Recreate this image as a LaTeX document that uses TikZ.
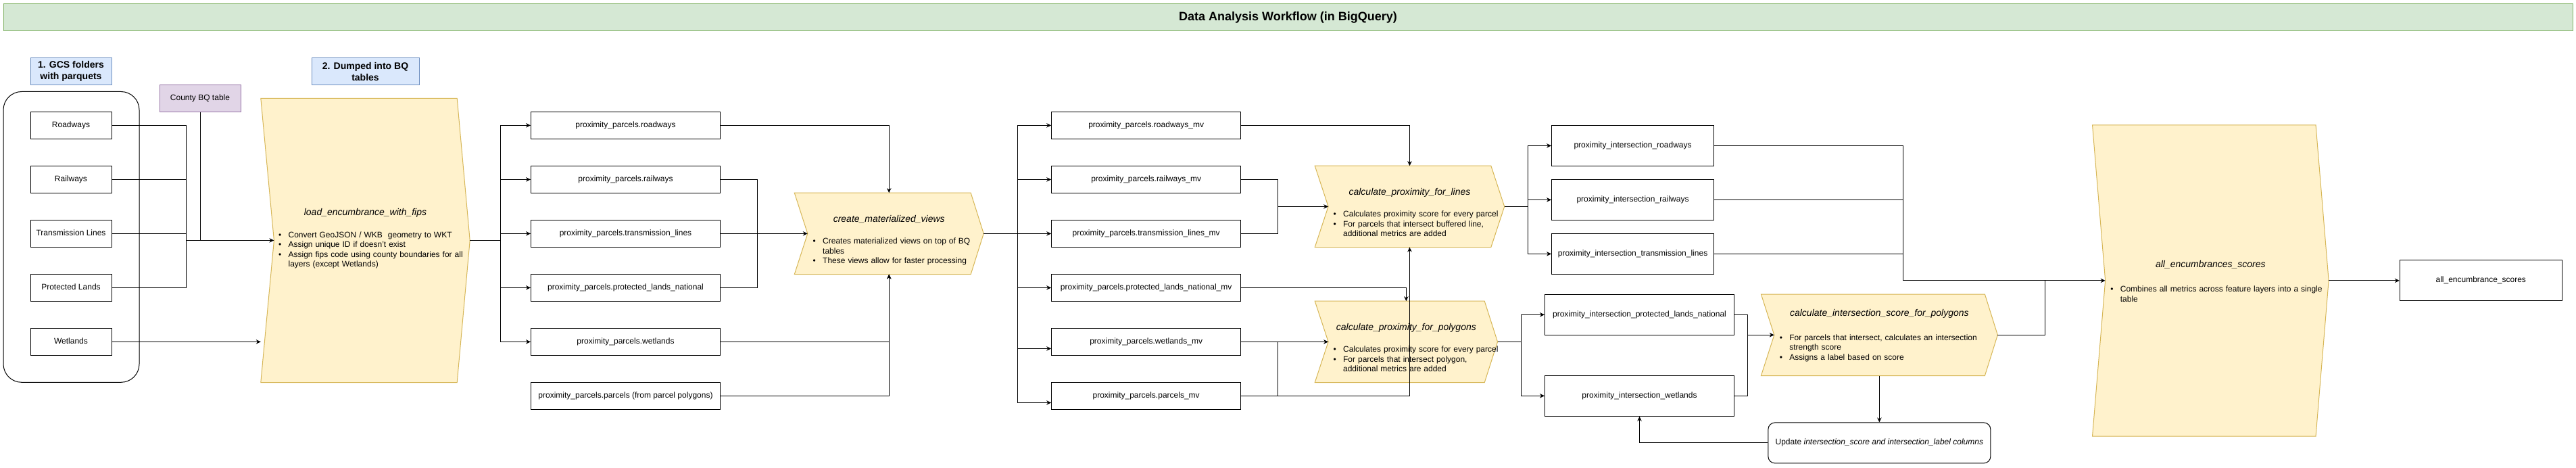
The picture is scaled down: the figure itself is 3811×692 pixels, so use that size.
\documentclass[tikz,border=0pt]{standalone}
\usepackage{fontspec}
\setmainfont{Liberation Sans}
\usetikzlibrary{arrows.meta}
\definecolor{tgreen}{HTML}{D5E8D4}
\definecolor{tgreenb}{HTML}{82B366}
\definecolor{lblue}{HTML}{DAE8FC}
\definecolor{lblueb}{HTML}{6C8EBF}
\definecolor{lpurp}{HTML}{E1D5E7}
\definecolor{lpurpb}{HTML}{9673A6}
\definecolor{lyel}{HTML}{FFF2CC}
\definecolor{lyelb}{HTML}{D6B656}
\newcommand{\bul}[1]{\par\hangindent=14.5pt\hangafter=1\noindent\makebox[14.5pt][l]{\textbullet}\strut#1\par}
\newcommand{\stepshape}[3]{%
  \path[fill=lyel, draw=lyelb, line width=1pt] (#1.north west) -- ([xshift=-#3pt]#1.north east) -- (#1.east) -- ([xshift=-#3pt]#1.south east) -- (#1.south west) -- ([xshift=#2pt]#1.west) -- cycle;
  \coordinate (#1-in) at ([xshift=#2pt]#1.west);}
\begin{document}
\begin{tikzpicture}[x=1pt,y=-1pt,
  tbox/.style={draw, line width=1pt, fill=white, inner sep=0pt, minimum width=#1, minimum height=40pt, font=\fontsize{12}{14.5}\selectfont, text height=9pt, text depth=3pt},
  lab/.style={draw=lblueb, fill=lblue, line width=1pt, inner sep=0pt, minimum width=#1, minimum height=40.2pt, align=center, font=\bfseries\fontsize{14}{17}\selectfont},
  stepn/.style={inner sep=0pt, minimum width=#1},
  fnttl/.style={inner sep=0pt, font=\itshape\fontsize{14}{16}\selectfont, text height=10pt, text depth=3pt},
  bullist/.style={anchor=north west, inner sep=0pt, text width=330pt, align=left, font=\fontsize{12}{14.5}\selectfont},
  lnk/.style={draw, line width=1pt},
  arw/.style={lnk, -{Stealth[length=7pt,width=6.5pt]}}
]
\useasboundingbox (0,0) rectangle (3811,692);

% title bar
\node[draw=tgreenb, fill=tgreen, line width=1pt, minimum width=3801pt, minimum height=40.2pt, inner sep=0pt, font=\bfseries\fontsize{18}{20}\selectfont] (title) at (1905.5,25.4) {Data Analysis Workflow (in BigQuery)};

% labels
\node[lab=120pt] (gcs) at (105,105.7) {1. GCS folders\\with parquets};
\node[lab=159pt] (dump) at (540.5,105.7) {2. Dumped into BQ\\tables};
\node[draw=lpurpb, fill=lpurp, line width=1pt, inner sep=0pt, minimum width=120pt, minimum height=40.2pt, font=\fontsize{12}{14.5}\selectfont] (county) at (296,145.4) {County BQ table};

% container
\node[draw, line width=1pt, rounded corners=27pt, minimum width=201pt, minimum height=429.8pt, inner sep=0pt] (cont) at (105.5,350.4) {};

% GCS sources
\node[tbox=120pt] (road) at (105,185.4) {Roadways};
\node[tbox=120pt] (rail) at (105,265.4) {Railways};
\node[tbox=120pt] (trans) at (105,345.4) {Transmission Lines};
\node[tbox=120pt] (prot) at (105,425.4) {Protected Lands};
\node[tbox=120pt] (wet) at (105,505.4) {Wetlands};

% load step
\node[stepn=309pt, minimum height=419.7pt] (load) at (540.5,355.45) {};
\stepshape{load}{19.6}{19}
\node[fnttl] (loadT) at (540.5,315) {load\_encumbrance\_with\_fips};
\node[bullist] (loadB) at (411.9,336.7) {\bul{Convert GeoJSON / WKB\ \ geometry to WKT}\bul{Assign unique ID if doesn't exist}\bul{Assign fips code using county boundaries for all\newline layers (except Wetlands)}};

% proximity tables
\node[tbox=280pt] (pr1) at (925.5,185.4) {proximity\_parcels.roadways};
\node[tbox=280pt] (pr2) at (925.5,265.4) {proximity\_parcels.railways};
\node[tbox=280pt] (pr3) at (925.5,345.4) {proximity\_parcels.transmission\_lines};
\node[tbox=280pt] (pr4) at (925.5,425.4) {proximity\_parcels.protected\_lands\_national};
\node[tbox=280pt] (pr5) at (925.5,505.4) {proximity\_parcels.wetlands};
\node[tbox=280pt] (pr6) at (925.5,585.4) {proximity\_parcels.parcels (from parcel polygons)};

% create mv step
\node[stepn=279.5pt, minimum height=120pt] (mv) at (1315.25,345.4) {};
\stepshape{mv}{19.5}{19}
\node[fnttl] (mvT) at (1315.25,325.4) {create\_materialized\_views};
\node[bullist] (mvB) at (1202.5,346) {\bul{Creates materialized views on top of BQ\newline tables}\bul{These views allow for faster processing}};

% mv tables
\node[tbox=280pt] (mv1) at (1695.65,185.4) {proximity\_parcels.roadways\_mv};
\node[tbox=280pt] (mv2) at (1695.65,265.4) {proximity\_parcels.railways\_mv};
\node[tbox=280pt] (mv3) at (1695.65,345.4) {proximity\_parcels.transmission\_lines\_mv};
\node[tbox=280pt] (mv4) at (1695.65,425.4) {proximity\_parcels.protected\_lands\_national\_mv};
\node[tbox=280pt] (mv5) at (1695.65,505.4) {proximity\_parcels.wetlands\_mv};
\node[tbox=280pt] (mv6) at (1695.65,585.4) {proximity\_parcels.parcels\_mv};

% lines step
\node[stepn=280.1pt, minimum height=120pt] (lines) at (2085.45,305.4) {};
\stepshape{lines}{19.9}{19.9}
\node[fnttl] (linesT) at (2085.45,285.4) {calculate\_proximity\_for\_lines};
\node[bullist] (linesB) at (1972.4,306) {\bul{Calculates proximity score for every parcel}\bul{For parcels that intersect buffered line,\newline additional metrics are added}};

% polygons step
\node[stepn=269.9pt, minimum height=120pt] (poly) at (2080.35,505.4) {};
\stepshape{poly}{19.9}{19.3}
\node[fnttl] (polyT) at (2080.35,485) {calculate\_proximity\_for\_polygons};
\node[bullist] (polyB) at (1972.4,506.1) {\bul{Calculates proximity score for every parcel}\bul{For parcels that intersect polygon,\newline additional metrics are added}};

% intersection tables
\node[tbox=240pt, minimum height=60pt] (i1) at (2415.55,215.4) {proximity\_intersection\_roadways};
\node[tbox=240pt, minimum height=60pt] (i2) at (2415.55,295.4) {proximity\_intersection\_railways};
\node[tbox=240pt, minimum height=60pt] (i3) at (2415.55,375.4) {proximity\_intersection\_transmission\_lines};
\node[tbox=280pt, minimum height=60pt] (i4) at (2425.5,465.3) {proximity\_intersection\_protected\_lands\_national};
\node[tbox=280pt, minimum height=60pt] (i5) at (2425.5,585.3) {proximity\_intersection\_wetlands};

% intersection score step
\node[stepn=349.5pt, minimum height=120pt] (is) at (2780.35,495.3) {};
\stepshape{is}{19.4}{18.9}
\node[fnttl] (isT) at (2780.35,464.3) {calculate\_intersection\_score\_for\_polygons};
\node[bullist] (isB) at (2632.6,488.7) {\bul{For parcels that intersect, calculates an intersection\newline strength score}\bul{Assigns a label based on score}};

% update box
\node[draw, line width=1pt, rounded corners=10pt, minimum width=329pt, minimum height=60pt, inner sep=0pt, font=\fontsize{12}{14.5}\selectfont, text height=9pt, text depth=3pt] (upd) at (2780.35,654.9) {Update \textit{intersection\_score and intersection\_label columns}};

% all scores step
\node[stepn=349.2pt, minimum height=459.8pt] (all) at (3270.3,414.9) {};
\stepshape{all}{19.1}{19.1}
\node[fnttl] (allT) at (3270.3,391.8) {all\_encumbrances\_scores};
\node[bullist] (allB) at (3122.1,417) {\bul{Combines all metrics across feature layers into a single\newline table}};

\node[tbox=240pt, minimum height=60pt] (fin) at (3670.25,414.9) {all\_encumbrance\_scores};

% ---------- connectors ----------
% stage 1
\coordinate (m1) at (275.5,355.45);
\draw[lnk] (road.east) -| (m1);
\draw[lnk] (rail.east) -| (m1);
\draw[lnk] (trans.east) -| (m1);
\draw[lnk] (prot.east) -| (m1);
\draw[lnk] (county.south) -- (county.south |- m1);
\draw[arw] (m1) -- (load-in);
\draw[arw] (wet.east) -- (wet.east -| load.west);

% stage 2
\coordinate (s2) at (740,355.45);
\draw[lnk] (load.east) -- (s2);
\foreach \n in {pr1,pr2,pr3,pr4,pr5} \draw[arw] (s2) |- (\n.west);

% stage 3
\coordinate (m3) at (1120.4,345.4);
\draw[arw] (pr1.east) -| (mv.north);
\draw[lnk] (pr2.east) -| (m3);
\draw[lnk] (pr4.east) -| (m3);
\draw[arw] (pr3.east) -- (mv-in);
\draw[arw] (pr5.east) -| (mv.south);
\draw[arw] (pr6.east) -| (mv.south);

% stage 4
\coordinate (s4) at (1505.6,345.4);
\draw[lnk] (mv.east) -- (s4);
\foreach \n in {mv1,mv2,mv3,mv4} \draw[arw] (s4) |- (\n.west);
\draw[arw] (s4) |- ([yshift=-10pt]mv5.west);
\draw[arw] (s4) |- ([yshift=-10pt]mv6.west);

% stage 5
\coordinate (m5) at (1890.3,305.4);
\coordinate (m5b) at (1890.3,505.4);
\draw[arw] (mv1.east) -| (lines.north);
\draw[lnk] (mv2.east) -| (m5);
\draw[lnk] (mv3.east) -| (m5);
\draw[arw] (m5) -- (lines-in);
\draw[arw] (mv4.east) -| (poly.north);
\draw[arw] (mv5.east) -- (poly-in);
\draw[lnk] (mv6.east) -| (m5b);
\draw[arw] (mv6.east) -| (lines.south);

% stage 6
\coordinate (s6) at (2260.7,305.4);
\draw[lnk] (lines.east) -- (s6);
\foreach \n in {i1,i2,i3} \draw[arw] (s6) |- (\n.west);
\coordinate (s6b) at (2250.5,505.4);
\draw[lnk] (poly.east) -- (s6b);
\draw[arw] (s6b) |- (i4.west);
\draw[arw] (s6b) |- (i5.west);

% stage 7
\coordinate (m7) at (2815.3,414.9);
\draw[lnk] (i1.east) -| (m7);
\draw[lnk] (i2.east) -| (m7);
\draw[lnk] (i3.east) -| (m7);
\draw[arw] (m7) -- (all-in);
\coordinate (m7b) at (2585.7,495.3);
\draw[lnk] (i4.east) -| (m7b);
\draw[lnk] (i5.east) -| (m7b);
\draw[arw] (m7b) -- (is-in);
\coordinate (m7c) at (3025.3,414.9);
\draw[lnk] (is.east) -| (m7c);
\draw[arw] (is.south) -- (upd.north);
\draw[arw] (upd.west) -| (i5.south);
\draw[arw] (all.east) -- (fin.west);
\end{tikzpicture}
\end{document}
